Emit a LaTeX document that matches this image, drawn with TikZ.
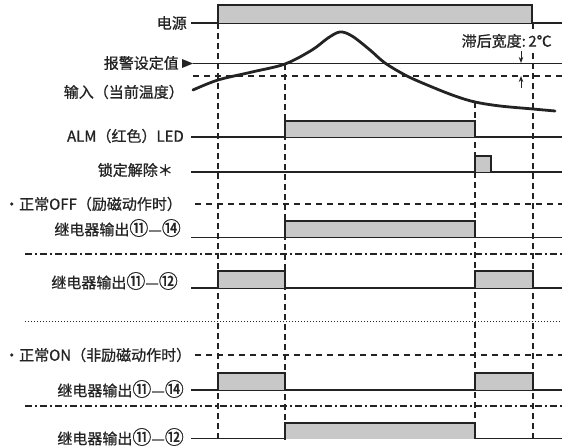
\documentclass[tikz,border=0pt]{standalone}
\usepackage{fontspec}
\setmainfont{Noto Sans CJK SC}[FakeBold=0.9]
\usetikzlibrary{arrows.meta}
\definecolor{sigfill}{RGB}{200,200,200}
\definecolor{ink}{RGB}{35,35,35}
\newcommand{\cn}[1]{{\fontsize{19}{18}\selectfont #1}}
\begin{document}
\begin{tikzpicture}[x=1pt,y=-1pt,
  lbl/.style={anchor=east, inner sep=0pt, text=ink, font=\fontsize{15}{18}\selectfont},
  lblw/.style={anchor=west, inner sep=0pt, text=ink, font=\fontsize{15}{18}\selectfont},
  base/.style={line width=1.1pt, draw=ink},
  sig/.style={draw=ink, line width=1.3pt, fill=sigfill},
  vdash/.style={line width=1.1pt, draw=ink, dash pattern=on 6pt off 4pt},
  hdash/.style={line width=1.1pt, draw=ink, dash pattern=on 6pt off 5pt},
  dashdot/.style={line width=1.1pt, draw=ink, dash pattern=on 7pt off 3pt on 2pt off 3pt},
  dotline/.style={line width=1pt, draw=ink, dash pattern=on 1pt off 2pt},
  harrow/.style={line width=1pt, draw=ink, -{Stealth[length=6pt,width=4.5pt]}},
]
\useasboundingbox (0,0) rectangle (562,446);

% ---------- vertical dashed time markers ----------
\draw[vdash] (218,23) -- (218,440);
\draw[vdash] (285,64) -- (285,440);
\draw[vdash] (475,102) -- (475,440);
\draw[vdash] (533,23) -- (533,440);

% ---------- labels ----------
\node[lbl] (pwr) at (187,23) {电源};
\node[lbl] (setv) at (179,63) {报警设定值};
\node[lbl] (inp) at (184,92) {输入（当前温度）};
\node[lbl] (alm) at (184,136) {ALM（红色）LED};
\node[lbl] (lock) at (173,170) {锁定解除＊};
\node[lblw] (noff) at (4,204) {·正常OFF（励磁动作时）};
\node[lbl] (r1) at (181,228) {继电器输出\cn{⑪}—\cn{⑭}};
\node[lbl] (r2) at (178,281) {继电器输出\cn{⑪}—\cn{⑫}};
\node[lblw] (non) at (4,355) {·正常ON（非励磁动作时）};
\node[lbl] (r3) at (184,389) {继电器输出\cn{⑪}—\cn{⑭}};
\node[lbl] (r4) at (184,437) {继电器输出\cn{⑪}—\cn{⑫}};
\node[lblw, fill=white, inner sep=1.5pt] (hys) at (460,41) {滞后宽度:\,2℃};

% ---------- horizontal reference lines ----------
\draw[hdash] (193,76) -- (562,76);
\draw[hdash] (195,204) -- (562,204);
\draw[dashdot] (25,254) -- (562,254);
\draw[dotline] (25,321) -- (562,321);
\draw[hdash] (195,355) -- (562,355);
\draw[dashdot] (25,406) -- (562,406);

% ---------- set value line with marker ----------
\draw[base] (193,63.5) -- (562,63.5);
\fill[ink] (182,59) -- (193,63.5) -- (182,68) -- cycle;

% ---------- hysteresis arrows ----------
\coordinate (hA) at (521,51);
\coordinate (hB) at (521,63);
\coordinate (hC) at (521,88);
\coordinate (hD) at (521,76);
\draw[harrow] (hA) -- (hB);
\draw[harrow] (hC) -- (hD);

% ---------- input curve ----------
\draw[line width=2.8pt, draw=ink, line cap=round]
  plot[smooth, tension=0.55] coordinates {(193,90) (218,80) (252,72) (285,64) (312,50) (328,38) (340,32) (352,36) (370,50) (385,63) (407,76) (432,87) (455,96) (475,102) (500,106) (533,109) (555,111)};

% ---------- power ----------
\draw[base] (191,23) -- (562,23);
\draw[sig] (218,23) -- (218,5) -- (532,5) -- (532,23);

% ---------- ALM LED ----------
\draw[base] (191,137) -- (562,137);
\draw[sig] (285,137) -- (285,121) -- (475,121) -- (475,137);

% ---------- latch release ----------
\draw[base] (191,172) -- (562,172);
\draw[sig] (475,172) -- (475,156) -- (491,156) -- (491,172);

% ---------- normally OFF relay 11-14 ----------
\draw[base] (191,237.5) -- (562,237.5);
\draw[sig] (285,237.5) -- (285,221) -- (475,221) -- (475,237.5);

% ---------- normally OFF relay 11-12 ----------
\draw[base] (191,288) -- (562,288);
\draw[sig] (218,288) -- (218,271) -- (285,271) -- (285,288);
\draw[sig] (475,288) -- (475,271) -- (533,271) -- (533,288);

% ---------- normally ON relay 11-14 ----------
\draw[base] (191,390) -- (562,390);
\draw[sig] (218,390) -- (218,373) -- (285,373) -- (285,390);
\draw[sig] (475,390) -- (475,373) -- (533,373) -- (533,390);

% ---------- normally ON relay 11-12 ----------
\draw[base] (191,438.5) -- (562,438.5);
\draw[sig] (285,438.5) -- (285,423) -- (475,423) -- (475,438.5);
\end{tikzpicture}
\end{document}
